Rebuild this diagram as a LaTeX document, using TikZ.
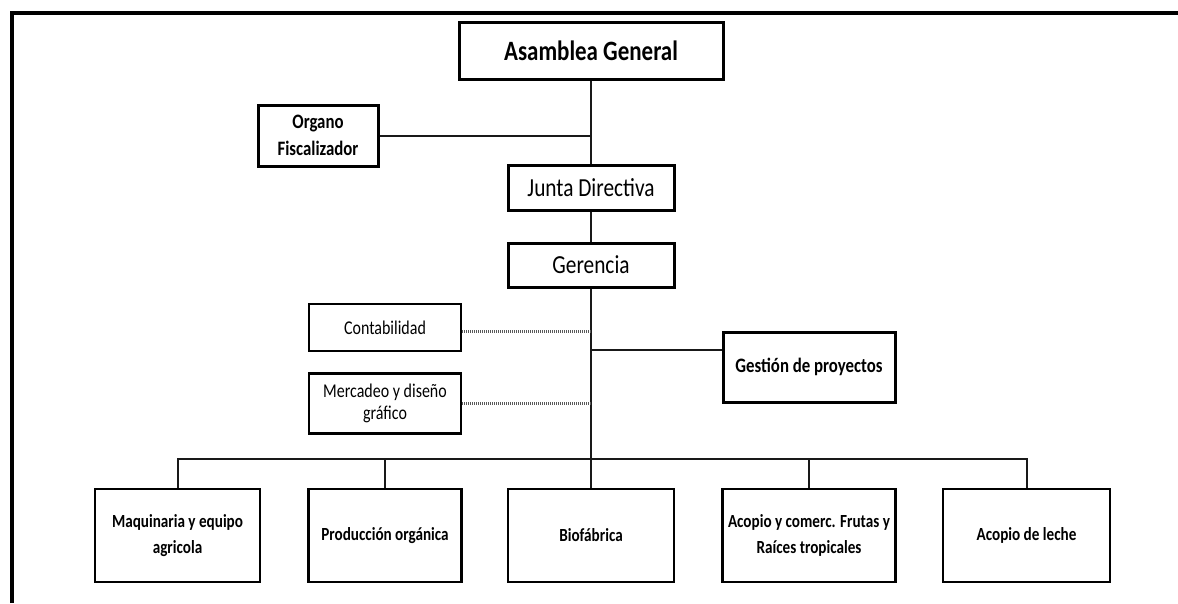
\documentclass[tikz,border=0pt]{standalone}
\usepackage{fontspec}
\setmainfont{Carlito}[FakeStretch=0.82]
\tikzset{
  unit/.style={draw, align=center, inner sep=0pt, text=black},
  topunit/.style={unit, line width=3pt},
  staffunit/.style={unit, line width=2.2pt, font=\fontsize{19.5}{22}\selectfont},
  areaunit/.style={unit, line width=2.6pt, minimum height=93pt, font=\bfseries\fontsize{18.5}{26}\selectfont},
  link/.style={line width=2pt, black!90},
  staff link/.style={line width=2.4pt, gray!70!black, dash pattern=on 1.2pt off 0.8pt}
}
\begin{document}
\begin{tikzpicture}[x=1pt,y=-1pt]
    \useasboundingbox (0,0) rectangle (1178,603);
    % frame
    \draw[line width=4pt] (12,603) -- (12,13) -- (1178,13);
    % top of the chart
    \node[topunit, minimum width=264pt, minimum height=57pt, font=\bfseries\fontsize{28}{30}\selectfont] (asamblea) at (591,50.5) {Asamblea General};
    \node[topunit, minimum width=120pt, minimum height=61pt, font=\bfseries\fontsize{20.5}{27}\selectfont] (organo) at (318,135.5) {Organo\\Fiscalizador};
    \node[topunit, minimum width=166pt, minimum height=45pt, font=\fontsize{26}{28}\selectfont] (junta) at (591,187.5) {Junta Directiva};
    \node[topunit, minimum width=166pt, minimum height=44pt, font=\fontsize{26}{28}\selectfont] (gerencia) at (591,265) {Gerencia};
    % staff
    \node[staffunit, minimum width=152pt, minimum height=47pt] (conta) at (385,327.5) {Contabilidad};
    \node[staffunit, minimum width=152pt, minimum height=60pt] (mercadeo) at (385,403.5) {Mercadeo y diseño\\gráfico};
    \node[topunit, minimum width=172pt, minimum height=70pt, font=\bfseries\fontsize{20.5}{24}\selectfont] (gestion) at (809,367) {Gestión de proyectos};
    % areas
    \node[areaunit, minimum width=165pt] (maq) at (177.5,535.5) {Maquinaria y equipo\\agricola};
    \node[areaunit, minimum width=153pt] (prod) at (385,535.5) {Producción orgánica};
    \node[areaunit, minimum width=166pt] (bio) at (591,535.5) {Biofábrica};
    \node[areaunit, minimum width=173pt] (acopio) at (809,535.5) {Acopio y comerc. Frutas y\\Raíces tropicales};
    \node[areaunit, minimum width=167pt] (leche) at (1026.5,535.5) {Acopio de leche};
    \coordinate (bus) at (591,459);
    % connectors
    \draw[link] (asamblea.south) -- (junta.north);
    \draw[link] (organo.east) -- (organo.east -| asamblea.south);
    \draw[link] (junta.south) -- (gerencia.north);
    \draw[link] (gerencia.south) -- (bus);
    \draw[staff link] ([yshift=-4pt]conta.east) -- ([yshift=-4pt]conta.east -| bus);
    \draw[staff link] (mercadeo.east) -- (mercadeo.east -| bus);
    \draw[link] ([yshift=17pt]gestion.west -| bus) -- ([yshift=17pt]gestion.west);
    \draw[link] (maq.north) |- (bus) -| (leche.north);
    \foreach \n in {prod,bio,acopio}
        \draw[link] (\n.north) -- (\n.north |- bus);
\end{tikzpicture}
\end{document}
